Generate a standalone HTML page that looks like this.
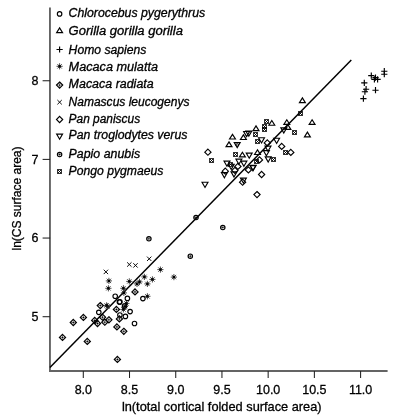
<!DOCTYPE html>
<html><head><meta charset="utf-8"><title>Scatter plot</title>
<style>html,body{margin:0;padding:0;background:#fff;}svg{display:block;}</style></head>
<body><svg width="402" height="420" viewBox="0 0 402 420">
<rect width="402" height="420" fill="#fff"/>
<g stroke="#646464" stroke-width="1.9" fill="none" stroke-linecap="butt">
<path d="M49.95 7.5V371.0H387.6"/>
</g>
<g stroke="#222" stroke-width="1.05" fill="none">
<path d="M83.30 370.9V378"/>
<path d="M129.51 370.9V378"/>
<path d="M175.73 370.9V378"/>
<path d="M221.94 370.9V378"/>
<path d="M268.16 370.9V378"/>
<path d="M314.38 370.9V378"/>
<path d="M360.59 370.9V378"/>
<path d="M50.1 316.70H42.6"/>
<path d="M50.1 238.05H42.6"/>
<path d="M50.1 159.40H42.6"/>
<path d="M50.1 80.75H42.6"/>
</g>
<g font-family="Liberation Sans, sans-serif" font-size="13.3" fill="#000" stroke="#000" stroke-width="0.3" text-anchor="middle">
<text transform="translate(83.30 393.9) scale(0.94 1)">8.0</text>
<text transform="translate(129.51 393.9) scale(0.94 1)">8.5</text>
<text transform="translate(175.73 393.9) scale(0.94 1)">9.0</text>
<text transform="translate(221.94 393.9) scale(0.94 1)">9.5</text>
<text transform="translate(268.16 393.9) scale(0.94 1)">10.0</text>
<text transform="translate(314.38 393.9) scale(0.94 1)">10.5</text>
<text transform="translate(360.59 393.9) scale(0.94 1)">11.0</text>
</g>
<g font-family="Liberation Sans, sans-serif" font-size="13.3" fill="#000" stroke="#000" stroke-width="0.3" text-anchor="end">
<text transform="translate(38.4 320.80) scale(0.94 1)">5</text>
<text transform="translate(38.4 242.15) scale(0.94 1)">6</text>
<text transform="translate(38.4 163.50) scale(0.94 1)">7</text>
<text transform="translate(38.4 84.85) scale(0.94 1)">8</text>
</g>
<text x="121.9" y="411.1" font-family="Liberation Sans, sans-serif" font-size="13" stroke="#000" stroke-width="0.3" textLength="199.7" lengthAdjust="spacingAndGlyphs">ln(total cortical folded surface area)</text>
<text transform="translate(21.4 250.5) rotate(-90)" font-family="Liberation Sans, sans-serif" font-size="13" stroke="#000" stroke-width="0.3" textLength="104" lengthAdjust="spacingAndGlyphs">ln(CS surface area)</text>
<g stroke="#000" stroke-width="1.15" fill="none">
<circle cx="59.60" cy="13.90" r="2.25"/>
<path d="M59.60 27.92L62.56 32.63L56.64 32.63Z"/>
<path d="M56.49 49.50H62.71M59.60 46.39V52.61"/>
<path stroke="#3a3a3a" stroke-width="0.9" d="M57.40 64.10L61.80 68.50M57.40 68.50L61.80 64.10M56.49 66.30H62.71M59.60 63.19V69.41"/><rect x="58.40" y="65.10" width="2.4" height="2.4" fill="#000" stroke="none"/>
<path d="M59.60 81.99L62.71 85.10L59.60 88.21L56.49 85.10Z"/><path stroke-width="0.45" d="M56.49 85.10H62.71M59.60 81.99V88.21"/><circle cx="59.60" cy="85.10" r="0.65" fill="#000" stroke="none"/>
<path stroke-width="0.95" d="M57.40 100.00L61.80 104.40M57.40 104.40L61.80 100.00"/>
<path d="M59.60 116.39L62.71 119.50L59.60 122.61L56.49 119.50Z"/>
<path d="M59.60 139.22L62.56 134.09L56.64 134.09Z"/>
<circle cx="59.60" cy="154.50" r="2.20"/><path stroke-width="0.45" d="M57.40 154.50H61.80M59.60 152.30V156.70"/><circle cx="59.60" cy="154.50" r="0.6" fill="#000" stroke="none"/>
<path stroke-width="0.8" d="M57.50 169.50H61.50V173.50H57.50Z"/><path stroke-width="0.9" d="M57.50 169.50L61.50 173.50M57.50 173.50L61.50 169.50"/>
</g>
<g font-family="Liberation Sans, sans-serif" font-style="italic" font-size="12" fill="#000" stroke="#000" stroke-width="0.3">
<text x="68.6" y="17.3" textLength="136.6" lengthAdjust="spacingAndGlyphs">Chlorocebus pygerythrus</text>
<text x="68.6" y="34.5" textLength="114.3" lengthAdjust="spacingAndGlyphs">Gorilla gorilla gorilla</text>
<text x="68.6" y="53.6" textLength="77.8" lengthAdjust="spacingAndGlyphs">Homo sapiens</text>
<text x="68.6" y="70.8" textLength="89.4" lengthAdjust="spacingAndGlyphs">Macaca mulatta</text>
<text x="68.6" y="88.4" textLength="85.1" lengthAdjust="spacingAndGlyphs">Macaca radiata</text>
<text x="68.6" y="105.5" textLength="120.8" lengthAdjust="spacingAndGlyphs">Namascus leucogenys</text>
<text x="68.6" y="122.8" textLength="71.5" lengthAdjust="spacingAndGlyphs">Pan paniscus</text>
<text x="68.6" y="139.2" textLength="118.8" lengthAdjust="spacingAndGlyphs">Pan troglodytes verus</text>
<text x="68.6" y="157.9" textLength="71.5" lengthAdjust="spacingAndGlyphs">Papio anubis</text>
<text x="68.6" y="175.4" textLength="94.7" lengthAdjust="spacingAndGlyphs">Pongo pygmaeus</text>
</g>
<path d="M49.9 367.55L351.3 60.0" stroke="#000" stroke-width="1.5" fill="none"/>
<g stroke="#000" stroke-width="1.15" fill="none">
<path d="M381.19 71.20H387.41M384.30 68.09V74.31"/>
<path d="M381.19 74.20H387.41M384.30 71.09V77.31"/>
<path d="M368.19 75.60H374.41M371.30 72.49V78.71"/>
<path d="M371.29 79.30H377.51M374.40 76.19V82.41"/>
<path d="M374.49 79.30H380.71M377.60 76.19V82.41"/>
<path d="M372.39 77.60H378.61M375.50 74.49V80.71"/>
<path d="M361.19 82.80H367.41M364.30 79.69V85.91"/>
<path d="M362.99 89.20H369.21M366.10 86.09V92.31"/>
<path d="M361.79 91.70H368.01M364.90 88.59V94.81"/>
<path d="M372.39 90.20H378.61M375.50 87.09V93.31"/>
<path d="M360.29 98.60H366.51M363.40 95.49V101.71"/>
<path d="M302.40 97.92L305.36 102.63L299.44 102.63Z"/>
<path stroke-width="0.8" d="M298.50 111.50H302.50V115.50H298.50Z"/><path stroke-width="0.9" d="M298.50 111.50L302.50 115.50M298.50 115.50L302.50 111.50"/>
<path d="M312.10 119.72L315.06 124.43L309.14 124.43Z"/>
<path d="M307.40 132.12L310.36 136.83L304.44 136.83Z"/>
<path d="M271.80 120.52L274.76 125.23L268.84 125.23Z"/>
<path stroke-width="0.8" d="M264.50 119.50H268.50V123.50H264.50Z"/><path stroke-width="0.9" d="M264.50 119.50L268.50 123.50M264.50 123.50L268.50 119.50"/>
<path stroke-width="0.8" d="M262.50 124.50H266.50V128.50H262.50Z"/><path stroke-width="0.9" d="M262.50 124.50L266.50 128.50M262.50 128.50L266.50 124.50"/>
<path stroke-width="0.8" d="M262.50 127.50H266.50V131.50H262.50Z"/><path stroke-width="0.9" d="M262.50 127.50L266.50 131.50M262.50 131.50L266.50 127.50"/>
<path d="M256.00 125.92L258.96 130.63L253.04 130.63Z"/>
<path stroke-width="0.8" d="M253.50 132.50H257.50V136.50H253.50Z"/><path stroke-width="0.9" d="M253.50 132.50L257.50 136.50M253.50 136.50L257.50 132.50"/>
<path d="M248.80 136.22L251.76 131.09L245.84 131.09Z"/>
<path d="M246.60 136.62L249.56 131.49L243.64 131.49Z"/>
<path d="M243.40 134.82L246.36 139.53L240.44 139.53Z"/>
<path d="M232.50 134.32L235.46 139.03L229.54 139.03Z"/>
<path d="M229.00 141.92L231.96 146.63L226.04 146.63Z"/>
<path d="M237.20 147.72L240.16 142.59L234.24 142.59Z"/>
<circle cx="237.20" cy="145.00" r="1.3" stroke-width="0.9"/>
<path stroke-width="0.8" d="M255.50 139.50H259.50V143.50H255.50Z"/><path stroke-width="0.9" d="M255.50 139.50L259.50 143.50M255.50 143.50L259.50 139.50"/>
<path d="M261.50 142.92L264.46 137.79L258.54 137.79Z"/>
<path d="M286.80 119.72L289.76 124.43L283.84 124.43Z"/>
<path d="M287.90 124.62L290.86 129.33L284.94 129.33Z"/>
<path d="M283.80 133.02L286.76 127.89L280.84 127.89Z"/>
<path stroke-width="0.8" d="M292.50 130.50H296.50V134.50H292.50Z"/><path stroke-width="0.9" d="M292.50 130.50L296.50 134.50M292.50 134.50L296.50 130.50"/>
<path d="M276.60 143.42L279.56 138.29L273.64 138.29Z"/>
<path d="M281.70 143.29L284.81 146.40L281.70 149.51L278.59 146.40Z"/>
<path stroke-width="0.8" d="M283.50 150.50H287.50V154.50H283.50Z"/><path stroke-width="0.9" d="M283.50 150.50L287.50 154.50M283.50 154.50L287.50 150.50"/>
<path d="M290.80 149.29L293.91 152.40L290.80 155.51L287.69 152.40Z"/>
<path d="M267.30 139.79L270.41 142.90L267.30 146.01L264.19 142.90Z"/>
<path d="M268.00 151.32L270.96 146.19L265.04 146.19Z"/>
<path d="M266.40 155.82L269.36 150.69L263.44 150.69Z"/>
<path d="M268.20 162.02L271.16 156.89L265.24 156.89Z"/>
<path stroke-width="0.8" d="M271.50 157.50H275.50V161.50H271.50Z"/><path stroke-width="0.9" d="M271.50 157.50L275.50 161.50M271.50 161.50L275.50 157.50"/>
<path d="M259.50 156.79L262.61 159.90L259.50 163.01L256.39 159.90Z"/>
<path d="M257.50 149.82L260.46 154.53L254.54 154.53Z"/>
<path stroke-width="0.8" d="M254.50 159.50H258.50V163.50H254.50Z"/><path stroke-width="0.9" d="M254.50 159.50L258.50 163.50M254.50 163.50L258.50 159.50"/>
<path stroke-width="0.8" d="M233.50 152.50H237.50V156.50H233.50Z"/><path stroke-width="0.9" d="M233.50 152.50L237.50 156.50M233.50 156.50L237.50 152.50"/>
<path d="M242.40 152.22L245.36 156.93L239.44 156.93Z"/>
<path d="M249.20 158.22L252.16 153.09L246.24 153.09Z"/>
<path d="M238.90 164.32L241.86 159.19L235.94 159.19Z"/>
<path d="M243.90 166.32L246.86 161.19L240.94 161.19Z"/>
<path d="M227.00 166.32L229.96 161.19L224.04 161.19Z"/>
<path stroke-width="0.8" d="M228.50 162.50H232.50V166.50H228.50Z"/><path stroke-width="0.9" d="M228.50 162.50L232.50 166.50M228.50 166.50L232.50 162.50"/>
<path d="M231.20 169.42L234.16 164.29L228.24 164.29Z"/>
<path d="M237.90 163.29L241.01 166.40L237.90 169.51L234.79 166.40Z"/>
<path d="M234.90 167.29L238.01 170.40L234.90 173.51L231.79 170.40Z"/>
<path d="M234.00 177.02L236.96 171.89L231.04 171.89Z"/>
<path d="M248.40 166.79L251.51 169.90L248.40 173.01L245.29 169.90Z"/>
<path d="M253.00 170.82L255.96 165.69L250.04 165.69Z"/>
<path d="M261.60 171.39L264.71 174.50L261.60 177.61L258.49 174.50Z"/>
<path d="M243.40 183.22L246.36 178.09L240.44 178.09Z"/>
<path d="M242.60 179.09L245.71 182.20L242.60 185.31L239.49 182.20Z"/>
<path d="M225.30 168.09L228.41 171.20L225.30 174.31L222.19 171.20Z"/>
<path d="M224.40 177.82L227.36 172.69L221.44 172.69Z"/>
<path d="M207.90 149.09L211.01 152.20L207.90 155.31L204.79 152.20Z"/>
<path stroke-width="0.8" d="M209.50 158.50H213.50V162.50H209.50Z"/><path stroke-width="0.9" d="M209.50 158.50L213.50 162.50M209.50 162.50L213.50 158.50"/>
<path d="M205.00 187.42L207.96 182.29L202.04 182.29Z"/>
<path d="M257.00 191.49L260.11 194.60L257.00 197.71L253.89 194.60Z"/>
<path d="M253.00 170.42L255.96 165.29L250.04 165.29Z"/>
<circle cx="196.00" cy="217.50" r="2.20"/><path stroke-width="0.45" d="M193.80 217.50H198.20M196.00 215.30V219.70"/><circle cx="196.00" cy="217.50" r="0.6" fill="#000" stroke="none"/>
<circle cx="222.80" cy="227.50" r="2.20"/><path stroke-width="0.45" d="M220.60 227.50H225.00M222.80 225.30V229.70"/><circle cx="222.80" cy="227.50" r="0.6" fill="#000" stroke="none"/>
<circle cx="148.90" cy="238.80" r="2.20"/><path stroke-width="0.45" d="M146.70 238.80H151.10M148.90 236.60V241.00"/><circle cx="148.90" cy="238.80" r="0.6" fill="#000" stroke="none"/>
<circle cx="190.30" cy="256.20" r="2.20"/><path stroke-width="0.45" d="M188.10 256.20H192.50M190.30 254.00V258.40"/><circle cx="190.30" cy="256.20" r="0.6" fill="#000" stroke="none"/>
<path stroke-width="0.95" d="M147.00 256.60L151.40 261.00M147.00 261.00L151.40 256.60"/>
<path stroke-width="0.95" d="M127.10 262.30L131.50 266.70M127.10 266.70L131.50 262.30"/>
<path stroke-width="0.95" d="M133.30 263.20L137.70 267.60M133.30 267.60L137.70 263.20"/>
<path stroke-width="0.95" d="M103.70 269.70L108.10 274.10M103.70 274.10L108.10 269.70"/>
<path stroke="#3a3a3a" stroke-width="0.9" d="M158.20 267.40L162.60 271.80M158.20 271.80L162.60 267.40M157.29 269.60H163.51M160.40 266.49V272.71"/><rect x="159.20" y="268.40" width="2.4" height="2.4" fill="#000" stroke="none"/>
<path stroke="#3a3a3a" stroke-width="0.9" d="M171.70 274.90L176.10 279.30M171.70 279.30L176.10 274.90M170.79 277.10H177.01M173.90 273.99V280.21"/><rect x="172.70" y="275.90" width="2.4" height="2.4" fill="#000" stroke="none"/>
<path stroke="#3a3a3a" stroke-width="0.9" d="M142.20 274.70L146.60 279.10M142.20 279.10L146.60 274.70M141.29 276.90H147.51M144.40 273.79V280.01"/><rect x="143.20" y="275.70" width="2.4" height="2.4" fill="#000" stroke="none"/>
<path stroke="#3a3a3a" stroke-width="0.9" d="M150.20 277.20L154.60 281.60M150.20 281.60L154.60 277.20M149.29 279.40H155.51M152.40 276.29V282.51"/><rect x="151.20" y="278.20" width="2.4" height="2.4" fill="#000" stroke="none"/>
<path stroke="#3a3a3a" stroke-width="0.9" d="M145.20 281.70L149.60 286.10M145.20 286.10L149.60 281.70M144.29 283.90H150.51M147.40 280.79V287.01"/><rect x="146.20" y="282.70" width="2.4" height="2.4" fill="#000" stroke="none"/>
<path stroke="#3a3a3a" stroke-width="0.9" d="M134.80 281.70L139.20 286.10M134.80 286.10L139.20 281.70M133.89 283.90H140.11M137.00 280.79V287.01"/><rect x="135.80" y="282.70" width="2.4" height="2.4" fill="#000" stroke="none"/>
<path stroke="#3a3a3a" stroke-width="0.9" d="M137.30 279.70L141.70 284.10M137.30 284.10L141.70 279.70M136.39 281.90H142.61M139.50 278.79V285.01"/><rect x="138.30" y="280.70" width="2.4" height="2.4" fill="#000" stroke="none"/>
<path stroke="#3a3a3a" stroke-width="0.9" d="M127.10 279.20L131.50 283.60M127.10 283.60L131.50 279.20M126.19 281.40H132.41M129.30 278.29V284.51"/><rect x="128.10" y="280.20" width="2.4" height="2.4" fill="#000" stroke="none"/>
<path stroke="#3a3a3a" stroke-width="0.9" d="M106.70 278.70L111.10 283.10M106.70 283.10L111.10 278.70M105.79 280.90H112.01M108.90 277.79V284.01"/><rect x="107.70" y="279.70" width="2.4" height="2.4" fill="#000" stroke="none"/>
<path stroke="#3a3a3a" stroke-width="0.9" d="M106.20 286.10L110.60 290.50M106.20 290.50L110.60 286.10M105.29 288.30H111.51M108.40 285.19V291.41"/><rect x="107.20" y="287.10" width="2.4" height="2.4" fill="#000" stroke="none"/>
<path stroke="#3a3a3a" stroke-width="0.9" d="M121.20 286.10L125.60 290.50M121.20 290.50L125.60 286.10M120.29 288.30H126.51M123.40 285.19V291.41"/><rect x="122.20" y="287.10" width="2.4" height="2.4" fill="#000" stroke="none"/>
<path stroke="#3a3a3a" stroke-width="0.9" d="M121.70 290.70L126.10 295.10M121.70 295.10L126.10 290.70M120.79 292.90H127.01M123.90 289.79V296.01"/><rect x="122.70" y="291.70" width="2.4" height="2.4" fill="#000" stroke="none"/>
<path stroke="#3a3a3a" stroke-width="0.9" d="M145.20 294.10L149.60 298.50M145.20 298.50L149.60 294.10M144.29 296.30H150.51M147.40 293.19V299.41"/><rect x="146.20" y="295.10" width="2.4" height="2.4" fill="#000" stroke="none"/>
<path stroke="#3a3a3a" stroke-width="0.9" d="M122.70 304.20L127.10 308.60M122.70 308.60L127.10 304.20M121.79 306.40H128.01M124.90 303.29V309.51"/><rect x="123.70" y="305.20" width="2.4" height="2.4" fill="#000" stroke="none"/>
<path stroke="#3a3a3a" stroke-width="0.9" d="M124.20 301.20L128.60 305.60M124.20 305.60L128.60 301.20M123.29 303.40H129.51M126.40 300.29V306.51"/><rect x="125.20" y="302.20" width="2.4" height="2.4" fill="#000" stroke="none"/>
<path stroke="#3a3a3a" stroke-width="0.9" d="M121.20 307.20L125.60 311.60M121.20 311.60L125.60 307.20M120.29 309.40H126.51M123.40 306.29V312.51"/><rect x="122.20" y="308.20" width="2.4" height="2.4" fill="#000" stroke="none"/>
<path stroke="#3a3a3a" stroke-width="0.9" d="M105.30 304.20L109.70 308.60M105.30 308.60L109.70 304.20M104.39 306.40H110.61M107.50 303.29V309.51"/><rect x="106.30" y="305.20" width="2.4" height="2.4" fill="#000" stroke="none"/>
<path stroke="#3a3a3a" stroke-width="0.9" d="M104.40 303.20L108.80 307.60M104.40 307.60L108.80 303.20M103.49 305.40H109.71M106.60 302.29V308.51"/><rect x="105.40" y="304.20" width="2.4" height="2.4" fill="#000" stroke="none"/>
<path d="M135.00 288.79L138.11 291.90L135.00 295.01L131.89 291.90Z"/><path stroke-width="0.45" d="M131.89 291.90H138.11M135.00 288.79V295.01"/><circle cx="135.00" cy="291.90" r="0.65" fill="#000" stroke="none"/>
<path d="M116.40 306.29L119.51 309.40L116.40 312.51L113.29 309.40Z"/><path stroke-width="0.45" d="M113.29 309.40H119.51M116.40 306.29V312.51"/><circle cx="116.40" cy="309.40" r="0.65" fill="#000" stroke="none"/>
<path d="M100.30 302.49L103.41 305.60L100.30 308.71L97.19 305.60Z"/><path stroke-width="0.45" d="M97.19 305.60H103.41M100.30 302.49V308.71"/><circle cx="100.30" cy="305.60" r="0.65" fill="#000" stroke="none"/>
<path d="M119.40 315.79L122.51 318.90L119.40 322.01L116.29 318.90Z"/><path stroke-width="0.45" d="M116.29 318.90H122.51M119.40 315.79V322.01"/><circle cx="119.40" cy="318.90" r="0.65" fill="#000" stroke="none"/>
<path d="M108.90 316.69L112.01 319.80L108.90 322.91L105.79 319.80Z"/><path stroke-width="0.45" d="M105.79 319.80H112.01M108.90 316.69V322.91"/><circle cx="108.90" cy="319.80" r="0.65" fill="#000" stroke="none"/>
<path d="M102.50 314.09L105.61 317.20L102.50 320.31L99.39 317.20Z"/><path stroke-width="0.45" d="M99.39 317.20H105.61M102.50 314.09V320.31"/><circle cx="102.50" cy="317.20" r="0.65" fill="#000" stroke="none"/>
<path d="M104.80 319.09L107.91 322.20L104.80 325.31L101.69 322.20Z"/><path stroke-width="0.45" d="M101.69 322.20H107.91M104.80 319.09V325.31"/><circle cx="104.80" cy="322.20" r="0.65" fill="#000" stroke="none"/>
<path d="M97.50 320.39L100.61 323.50L97.50 326.61L94.39 323.50Z"/><path stroke-width="0.45" d="M94.39 323.50H100.61M97.50 320.39V326.61"/><circle cx="97.50" cy="323.50" r="0.65" fill="#000" stroke="none"/>
<path d="M94.70 317.29L97.81 320.40L94.70 323.51L91.59 320.40Z"/><path stroke-width="0.45" d="M91.59 320.40H97.81M94.70 317.29V323.51"/><circle cx="94.70" cy="320.40" r="0.65" fill="#000" stroke="none"/>
<path d="M116.90 323.79L120.01 326.90L116.90 330.01L113.79 326.90Z"/><path stroke-width="0.45" d="M113.79 326.90H120.01M116.90 323.79V330.01"/><circle cx="116.90" cy="326.90" r="0.65" fill="#000" stroke="none"/>
<path d="M123.80 328.19L126.91 331.30L123.80 334.41L120.69 331.30Z"/><path stroke-width="0.45" d="M120.69 331.30H126.91M123.80 328.19V334.41"/><circle cx="123.80" cy="331.30" r="0.65" fill="#000" stroke="none"/>
<path d="M83.40 314.29L86.51 317.40L83.40 320.51L80.29 317.40Z"/><path stroke-width="0.45" d="M80.29 317.40H86.51M83.40 314.29V320.51"/><circle cx="83.40" cy="317.40" r="0.65" fill="#000" stroke="none"/>
<path d="M73.30 319.39L76.41 322.50L73.30 325.61L70.19 322.50Z"/><path stroke-width="0.45" d="M70.19 322.50H76.41M73.30 319.39V325.61"/><circle cx="73.30" cy="322.50" r="0.65" fill="#000" stroke="none"/>
<path d="M62.50 334.29L65.61 337.40L62.50 340.51L59.39 337.40Z"/><path stroke-width="0.45" d="M59.39 337.40H65.61M62.50 334.29V340.51"/><circle cx="62.50" cy="337.40" r="0.65" fill="#000" stroke="none"/>
<path d="M87.30 338.29L90.41 341.40L87.30 344.51L84.19 341.40Z"/><path stroke-width="0.45" d="M84.19 341.40H90.41M87.30 338.29V344.51"/><circle cx="87.30" cy="341.40" r="0.65" fill="#000" stroke="none"/>
<path d="M117.40 356.29L120.51 359.40L117.40 362.51L114.29 359.40Z"/><path stroke-width="0.45" d="M114.29 359.40H120.51M117.40 356.29V362.51"/><circle cx="117.40" cy="359.40" r="0.65" fill="#000" stroke="none"/>
<circle cx="115.20" cy="296.20" r="2.25"/>
<circle cx="127.40" cy="298.40" r="2.25"/>
<circle cx="142.90" cy="298.60" r="2.25"/>
<circle cx="119.90" cy="301.90" r="2.25"/>
<circle cx="119.40" cy="302.00" r="2.25"/>
<circle cx="124.60" cy="306.00" r="2.25"/>
<circle cx="130.10" cy="311.60" r="2.25"/>
<circle cx="98.80" cy="312.30" r="2.25"/>
<circle cx="119.90" cy="315.00" r="2.25"/>
<circle cx="125.40" cy="316.40" r="2.25"/>
<circle cx="134.50" cy="323.50" r="2.25"/>
</g>
</svg></body></html>
